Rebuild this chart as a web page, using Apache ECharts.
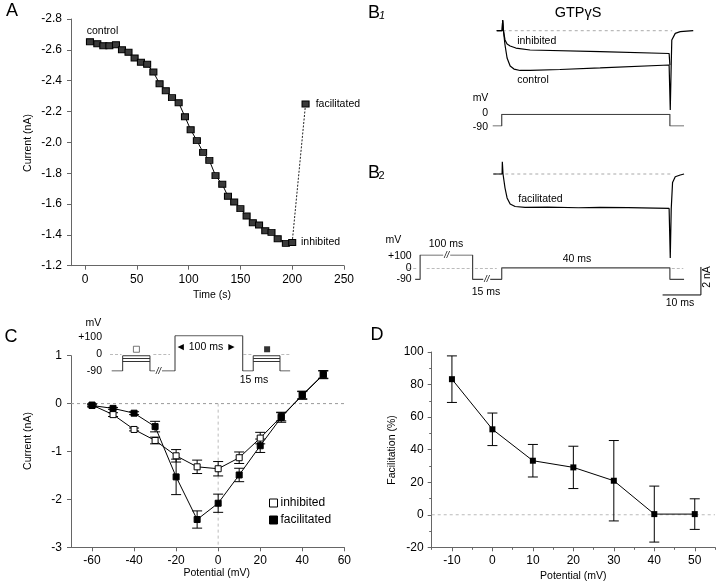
<!DOCTYPE html>
<html><head><meta charset="utf-8">
<script src="https://cdn.jsdelivr.net/npm/echarts@6/dist/echarts.min.js"></script>
<style>html,body{margin:0;padding:0;background:#fff}#c{width:720px;height:585px}</style>
</head><body><div id="c"></div>
<script>
// ---------- Panel A data ----------
const aTime = [4.8,11.9,17.7,23.5,29.9,35.7,42,47.9,54,60,66,72,78,84,90.4,96.5,102,108,114,120,126,132.5,138,144,150,156,162,168,174,180,186,193.9,200];
const aCurrent = [-2.653,-2.64,-2.627,-2.627,-2.633,-2.60,-2.584,-2.547,-2.52,-2.506,-2.456,-2.38,-2.335,-2.29,-2.257,-2.166,-2.082,-2.011,-1.935,-1.883,-1.784,-1.728,-1.65,-1.613,-1.57,-1.522,-1.479,-1.464,-1.427,-1.416,-1.375,-1.345,-1.351];
const aFacTime = [212.9];
const aFacCurrent = [-2.249];
const aXTicks = [0,50,100,150,200,250];

// ---------- Panel B traces (ms, nA / mV) ----------
const b1InhT = [-1.3,0.1,0.26,0.45,0.86,1.4,2.2,3.7,7.4,25.7,43.7,43.9];
const b1InhI = [0,0,0.76,0,-0.66,-0.95,-1.09,-1.24,-1.38,-1.49,-1.63,-2.45];
const b1CtlT = [-1.3,0.1,0.26,0.45,0.86,1.4,2.2,3.2,4.8,7.4,15.2,25.7,43.7,43.9,44.0,44.25,44.4,45.3,46.6,50];
const b1CtlI = [0,0,0.76,0,-1.02,-1.95,-2.52,-2.74,-2.84,-2.84,-2.77,-2.66,-2.45,-2.5,-5.66,-2.4,-0.66,-0.19,-0.07,0];
const b1BaseT = [-1.3,44.5];
const b1VT = [-2.35,0,0,43.9,43.9,47.6];
const b1VmV = [-90,-90,0,0,-90,-90];
const b2FacT = [-2.2,0.1,0.16,0.34,0.86,1.4,2.2,3.5,6.1,12,20,25.7,33,43.7,44.0,44.25,44.6,45.3,46.6,47.6];
const b2FacI = [0,0,0.88,0,-1,-1.71,-2.14,-2.32,-2.39,-2.37,-2.41,-2.39,-2.40,-2.46,-6.0,-2.5,-0.6,-0.2,-0.07,0];
const b2BaseT = [-2.2,44.3];
const b2VT = [-22.6,-21.3,-21.3,-7.6,-7.6,0,0,43.9,43.9,47.6];
const b2VmV = [-90,-90,100,100,-90,-90,0,0,-90,-90];
const b2ZeroSegs = [[-24.4,-22],[-19.6,-7.8],[-7,-1.3],[44.4,47.4]];
const scaleBarT = [42,52,52];
const scaleBarI = [-8.64,-8.64,-6.64];

// ---------- Panel C data ----------
const cPotential = [-60,-50,-40,-30,-20,-10,0,10,20,30,40,50];
const cInhibited = [-0.03,-0.23,-0.54,-0.77,-1.09,-1.32,-1.36,-1.13,-0.72,-0.27,0.17,0.60];
const cInhErr = [0.02,0.04,0.03,0.07,0.13,0.14,0.15,0.12,0.12,0.09,0.08,0.08];
const cFacilitated = [-0.04,-0.10,-0.20,-0.48,-1.53,-2.42,-2.08,-1.49,-0.88,-0.29,0.18,0.61];
const cFacErr = [0.03,0.02,0.03,0.11,0.37,0.18,0.19,0.14,0.14,0.10,0.08,0.08];
const cXTicks = [-60,-40,-20,0,20,40,60];
// inset protocol (ms, mV)
const cProtoT = [-93.5,-77.3,-77.3,-37,-37,0,0,100,100,115.5,115.5,155,155,170];
const cProtoV = [-90,-90,-8,-8,-90,-90,100,100,-90,-90,-8,-8,-90,-90];
const cStepLevels = [-22,-36];
const cStepSpans = [[-77.3,-37],[115.5,155]];
const cZeroSegs = [[-96,-79],[-32,-7.4],[101,115],[157,170]];
const cMarkT = [-57,136];
const cMarkV = [27,27];

// ---------- Panel D data ----------
const dPotential = [-10,0,10,20,30,40,50];
const dFacilitation = [83.3,52.5,33.2,29.1,20.9,0.4,0.4];
const dErr = [14.3,10,10,13,24.7,17.2,9.4];
const dXTicks = [-10,0,10,20,30,40,50];

const FONT = '"Liberation Sans", Arial, Helvetica, sans-serif';
const AX = '#666';

function txt(text, x, y, size, opt) {
  opt = opt || {};
  return {
    type: 'text', x: x, y: y, rotation: opt.rot || 0, z: 100,
    style: {
      text: text, fill: opt.color || '#000',
      font: (opt.italic ? 'italic ' : '') + size + 'px ' + FONT,
      align: opt.align || 'center', verticalAlign: 'middle',
      textAlign: opt.align || 'center', textVerticalAlign: 'middle',
      backgroundColor: opt.bg, padding: opt.bg ? [0, 1] : 0
    }
  };
}

function errRender(cap) {
  return function (params, api) {
    const x = api.value(0), lo = api.value(1), hi = api.value(2);
    const p1 = api.coord([x, lo]), p2 = api.coord([x, hi]);
    const st = { stroke: '#000', lineWidth: 1 };
    return { type: 'group', children: [
      { type: 'line', shape: { x1: p1[0], y1: p1[1], x2: p2[0], y2: p2[1] }, style: st },
      { type: 'line', shape: { x1: p1[0] - cap, y1: p1[1], x2: p1[0] + cap, y2: p1[1] }, style: st },
      { type: 'line', shape: { x1: p2[0] - cap, y1: p2[1], x2: p2[0] + cap, y2: p2[1] }, style: st }
    ] };
  };
}

const zip = (a, b) => a.map((v, i) => [v, b[i]]);
const hidden = (gi, min, max) => ({ gridIndex: gi, type: 'value', min: min, max: max, show: false, splitLine: { show: false } });

const baseAxis = {
  type: 'value',
  axisLine: { show: true, onZero: false, lineStyle: { color: AX, width: 1 } },
  axisTick: { show: true, length: 4, lineStyle: { color: AX } },
  axisLabel: { color: '#000', fontSize: 12, fontFamily: FONT },
  splitLine: { show: false }
};
const ax = (o) => Object.assign({}, JSON.parse(JSON.stringify(baseAxis)), o);

// B geometry
const BL = 386.8, BW = 325.6, BXMIN = -30, BXMAX = 55;

const grids = [
  { left: 71, top: 19, width: 273, height: 246.7 },          // 0 A
  { left: BL, top: 16.7, width: BW, height: 98 },            // 1 B1 I
  { left: BL, top: 114.3, width: BW, height: 11.7 },         // 2 B1 V
  { left: BL, top: 160, width: BW, height: 140 },            // 3 B2 I
  { left: BL, top: 255, width: BW, height: 24.3 },           // 4 B2 V
  { left: 71, top: 355.7, width: 273.3, height: 191.6 },     // 5 C
  { left: 107.3, top: 335.7, width: 189.6, height: 35.3 },   // 6 C inset
  { left: 431.7, top: 352, width: 283.3, height: 195.3 }     // 7 D
];

const xAxes = [
  ax({ gridIndex: 0, min: -13.5, max: 250, axisLabel: { color: '#000', fontSize: 12, fontFamily: FONT, margin: 8, customValues: aXTicks }, axisTick: { show: true, length: 4, lineStyle: { color: AX }, customValues: aXTicks } }),
  hidden(1, BXMIN, BXMAX), hidden(2, BXMIN, BXMAX), hidden(3, BXMIN, BXMAX), hidden(4, BXMIN, BXMAX),
  ax({ gridIndex: 5, min: -70, max: 60, axisLabel: { color: '#000', fontSize: 12, fontFamily: FONT, margin: 7, customValues: cXTicks }, axisTick: { show: true, length: 4, lineStyle: { color: AX }, customValues: cXTicks } }),
  hidden(6, -100, 180),
  ax({ gridIndex: 7, min: -15, max: 55, interval: 5, position: 'bottom', axisLabel: { show: false }, axisTick: { show: true, length: 2.5, lineStyle: { color: AX } } }),
  ax({ gridIndex: 7, min: -15, max: 55, position: 'bottom', offset: 0, axisLine: { show: false, onZero: false }, axisLabel: { color: '#000', fontSize: 12, fontFamily: FONT, margin: 7, customValues: dXTicks }, axisTick: { show: true, length: 4, lineStyle: { color: AX }, customValues: dXTicks } })
];

const yAxes = [
  ax({ gridIndex: 0, min: -2.8, max: -1.2, interval: 0.2, inverse: true, axisLabel: { color: '#000', fontSize: 12, fontFamily: FONT, margin: 9, formatter: v => v.toFixed(1) } }),
  hidden(1, -6, 1), hidden(2, -90, 0), hidden(3, -9, 1), hidden(4, -90, 100),
  ax({ gridIndex: 5, min: -3, max: 1, interval: 1, axisLabel: { color: '#000', fontSize: 12, fontFamily: FONT, margin: 9 } }),
  hidden(6, -90, 100),
  ax({ gridIndex: 7, min: -20, max: 100, interval: 20, minorTick: { show: true, splitNumber: 2, length: 2.5, lineStyle: { color: AX } }, axisLabel: { color: '#000', fontSize: 12, fontFamily: FONT, margin: 8 } })
];

const lineS = (xi, yi, data, o) => Object.assign({
  type: 'line', xAxisIndex: xi, yAxisIndex: yi, data: data, symbol: 'none',
  lineStyle: { color: '#000', width: 1 }, silent: true, animation: false
}, o || {});
const dashS = (xi, yi, data) => lineS(xi, yi, data, { lineStyle: { color: '#aaa', width: 1, type: [3, 3] }, z: 1 });

const series = [];
// ---- A ----
series.push(lineS(0, 0, zip(aTime, aCurrent), { symbol: 'rect', symbolSize: [7, 6], itemStyle: { color: '#3a3a3a', borderColor: '#000', borderWidth: 1 }, z: 3 }));
series.push(lineS(0, 0, [{ value: [aTime[aTime.length - 1], aCurrent[aCurrent.length - 1]], symbol: 'none' }, [aFacTime[0], aFacCurrent[0]]], { symbol: 'rect', symbolSize: [7, 6], itemStyle: { color: '#3a3a3a', borderColor: '#000', borderWidth: 1 }, lineStyle: { color: '#222', width: 1, type: [2, 1.5] }, z: 2 }));
// ---- B1 ----
series.push(dashS(1, 1, [[b1BaseT[0], 0], [b1BaseT[1], 0]]));
series.push(lineS(1, 1, zip(b1InhT, b1InhI), { lineStyle: { color: '#000', width: 1.2 } }));
series.push(lineS(1, 1, zip(b1CtlT, b1CtlI), { lineStyle: { color: '#000', width: 1.2 } }));
series.push(lineS(2, 2, zip(b1VT, b1VmV), { lineStyle: { color: '#444', width: 1.2 } }));
// ---- B2 ----
series.push(dashS(3, 3, [[b2BaseT[0], 0], [b2BaseT[1], 0]]));
series.push(lineS(3, 3, zip(b2FacT, b2FacI), { lineStyle: { color: '#000', width: 1.2 } }));
series.push(lineS(3, 3, zip(scaleBarT, scaleBarI), { lineStyle: { color: '#000', width: 1 } }));
series.push(lineS(4, 4, zip(b2VT, b2VmV), { lineStyle: { color: '#444', width: 1.2 } }));
series.push({ type: 'lines', coordinateSystem: 'cartesian2d', xAxisIndex: 4, yAxisIndex: 4, silent: true, z: 1,
  lineStyle: { color: '#bbb', width: 1, type: [3, 2], opacity: 1 },
  data: b2ZeroSegs.map(s => ({ coords: [[s[0], 0], [s[1], 0]] })) });
// ---- C ----
series.push(lineS(5, 5, [[-70, 0], [60, 0]], { lineStyle: { color: '#999', width: 1, type: [3, 3] }, z: 0 }));
series.push(lineS(5, 5, [[0, 0], [0, -3]], { lineStyle: { color: '#bbb', width: 1, type: [3, 3] }, z: 0 }));
series.push({ type: 'custom', xAxisIndex: 5, yAxisIndex: 5, renderItem: errRender(5), encode: { x: 0, y: [1, 2] }, silent: true, z: 1,
  data: cPotential.map((x, i) => [x, cInhibited[i] - cInhErr[i], cInhibited[i] + cInhErr[i]]) });
series.push({ type: 'custom', xAxisIndex: 5, yAxisIndex: 5, renderItem: errRender(5), encode: { x: 0, y: [1, 2] }, silent: true, z: 1,
  data: cPotential.map((x, i) => [x, cFacilitated[i] - cFacErr[i], cFacilitated[i] + cFacErr[i]]) });
series.push(lineS(5, 5, zip(cPotential, cInhibited), { name: 'inhibited', symbol: 'rect', symbolSize: 6, itemStyle: { color: '#fff', borderColor: '#000', borderWidth: 1 }, z: 3 }));
series.push(lineS(5, 5, zip(cPotential, cFacilitated), { name: 'facilitated', symbol: 'rect', symbolSize: 6, itemStyle: { color: '#000', borderColor: '#000', borderWidth: 1 }, z: 3 }));
// inset
series.push({ type: 'lines', coordinateSystem: 'cartesian2d', xAxisIndex: 6, yAxisIndex: 6, silent: true, z: 1,
  lineStyle: { color: '#bbb', width: 1, type: [3, 2], opacity: 1 },
  data: cZeroSegs.map(s => ({ coords: [[s[0], 0], [s[1], 0]] })) });
series.push(lineS(6, 6, zip(cProtoT, cProtoV), { lineStyle: { color: '#333', width: 1 } }));
series.push({ type: 'lines', coordinateSystem: 'cartesian2d', xAxisIndex: 6, yAxisIndex: 6, silent: true, z: 2,
  lineStyle: { color: '#333', width: 1, opacity: 1 },
  data: [].concat(...cStepLevels.map(l => cStepSpans.map(s => ({ coords: [[s[0], l], [s[1], l]] })))) });
series.push({ type: 'scatter', xAxisIndex: 6, yAxisIndex: 6, silent: true, symbol: 'rect', symbolSize: 6,
  data: [{ value: [cMarkT[0], cMarkV[0]], itemStyle: { color: '#fff', borderColor: '#555', borderWidth: 1 } },
         { value: [cMarkT[1], cMarkV[1]], itemStyle: { color: '#000' } }] });
// ---- D ----
series.push(lineS(7, 7, [[-15, 0], [55, 0]], { lineStyle: { color: '#bbb', width: 1, type: [3, 3] }, z: 0 }));
series.push({ type: 'custom', xAxisIndex: 7, yAxisIndex: 7, renderItem: errRender(5), encode: { x: 0, y: [1, 2] }, silent: true, z: 1,
  data: dPotential.map((x, i) => [x, dFacilitation[i] - dErr[i], dFacilitation[i] + dErr[i]]) });
series.push(lineS(7, 7, zip(dPotential, dFacilitation), { symbol: 'rect', symbolSize: 6, itemStyle: { color: '#000' }, z: 3 }));

const graphic = [
  // panel letters
  txt('A', 12, 11, 18), txt('C', 11, 337, 18), txt('D', 377, 335, 18),
  txt('B', 374, 13, 18), txt('1', 382, 16, 11, { italic: true }),
  txt('B', 374, 173, 18), txt('2', 381.5, 176, 11),
  // A
  txt('control', 102.5, 30.7, 10.5), txt('facilitated', 315.7, 104, 10.5, { align: 'left' }),
  txt('inhibited', 301, 242, 10.5, { align: 'left' }),
  txt('Current (nA)', 28.3, 143, 10.5, { rot: Math.PI / 2 }), txt('Time (s)', 212, 295.5, 10.5),
  // B
  txt('GTP\u03B3S', 578, 13, 14.5),
  txt('inhibited', 536.7, 40.7, 10.5), txt('control', 533, 80, 10.5), txt('facilitated', 540.5, 199, 10.5),
  txt('mV', 480.5, 98.3, 10.5), txt('0', 488, 112.7, 10.5, { align: 'right' }), txt('-90', 488, 126.7, 10.5, { align: 'right' }),
  txt('mV', 393.3, 240, 10.5), txt('+100', 411.7, 256, 10.5, { align: 'right' }), txt('0', 411.7, 268.3, 10.5, { align: 'right' }), txt('-90', 411.7, 279.3, 10.5, { align: 'right' }),
  txt('100 ms', 446, 244, 10.5), txt('40 ms', 577, 259, 10.5), txt('15 ms', 486, 292, 10.5),
  txt('//', 446.7, 255, 9, { italic: true, bg: '#fff' }), txt('//', 486.7, 279.3, 9, { italic: true, bg: '#fff' }),
  txt('2 nA', 707.5, 277, 10.5, { rot: Math.PI / 2 }), txt('10 ms', 680, 303.5, 10.5),
  // C
  txt('mV', 93.3, 323.3, 10.5), txt('+100', 102, 337, 10.5, { align: 'right' }), txt('0', 102, 354.3, 10.5, { align: 'right' }), txt('-90', 102, 371, 10.5, { align: 'right' }),
  txt('\u25C4 100 ms \u25BA', 206, 346.7, 10.5), txt('15 ms', 254, 380, 10.5),
  txt('//', 158.5, 371, 9, { italic: true, bg: '#fff' }),
  txt('Current (nA)', 28.3, 441, 10.5, { rot: Math.PI / 2 }), txt('Potential (mV)', 216.7, 573.3, 10.5),
  // D
  txt('Facilitation (%)', 391.7, 450, 10.5, { rot: Math.PI / 2 }), txt('Potential (mV)', 573.3, 575.7, 10.5)
];

const chart = echarts.init(document.getElementById('c'), null, { renderer: 'canvas' });
chart.setOption({
  animation: false,
  backgroundColor: '#fff',
  textStyle: { fontFamily: FONT },
  grid: grids,
  xAxis: xAxes,
  yAxis: yAxes,
  legend: {
    data: [{ name: 'inhibited', icon: 'rect' }, { name: 'facilitated', icon: 'rect' }],
    orient: 'vertical', left: 264, top: 492, itemWidth: 8, itemHeight: 8, itemGap: 5,
    itemStyle: { borderWidth: 1 },
    textStyle: { fontSize: 12, color: '#000', fontFamily: FONT, padding: [0, 0, 0, -2] },
    selectedMode: false
  },
  series: series,
  graphic: graphic
});
</script></body></html>
